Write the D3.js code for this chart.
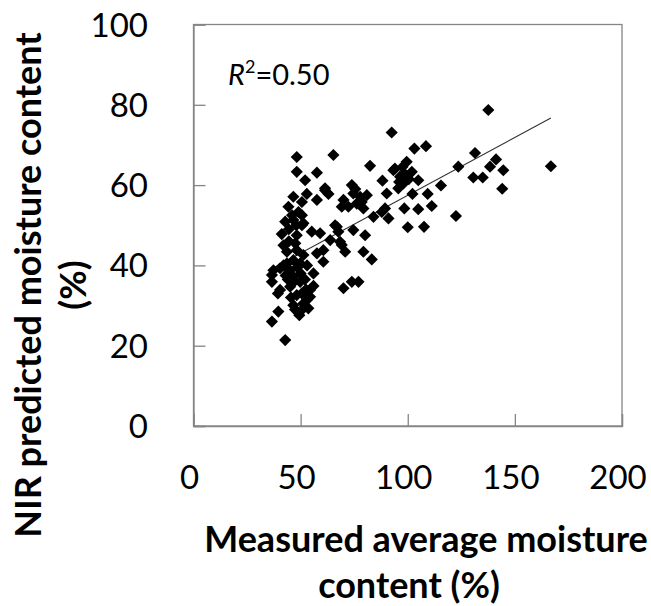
<!DOCTYPE html>
<html>
<head>
<meta charset="utf-8">
<script src="https://cdn.jsdelivr.net/npm/d3@7/dist/d3.min.js"></script>
<style>
  html, body { margin: 0; padding: 0; background: #fff; }
  svg { display: block; }
</style>
</head>
<body>
<svg id="chart" width="651" height="606"></svg>
<script>
// ---------- data ----------
const measured = [
  137.6, 92.5, 103.1, 108.5, 131.4, 141.2, 138.4, 144.6, 123.6, 166.8,
  130.6, 135.0, 144.1, 115.5, 82.4,
  94.0, 99.5, 101.9, 96.4, 98.0, 95.6, 93.3, 104.9, 97.5, 100.5, 96.0, 98.5,
  88.2, 90.2, 102.2, 109.3, 111.2, 104.9, 98.4, 89.4, 122.5, 100.0, 107.6,
  84.0, 87.9, 91.0,
  70.0, 74.6, 77.8, 80.9, 76.2, 79.3, 72.3, 69.2, 73.9, 75.5, 78.5, 61.4,
  66.1, 67.6, 74.6, 80.1, 63.8, 68.4, 70.8, 59.1, 60.6, 60.6, 79.3, 83.2,
  70.0, 73.9, 77.0, 69.2, 66.9,
  48.2, 65.3, 48.2, 57.6, 52.1, 61.4, 63.0, 46.6, 52.9, 57.6, 50.6, 44.3,
  49.0, 46.6, 42.8, 51.3, 50.6, 50.6,
  41.2, 48.2, 55.2, 57.6, 43.6, 48.2, 37.3, 36.6, 40.4, 43.6, 45.1, 49.8,
  46.6, 40.4, 45.1, 49.8, 54.4, 48.2, 51.3, 46.6, 49.8, 56.0, 54.4, 53.6,
  39.6, 36.6, 42.8, 49.4, 47.4, 52.9, 56.0, 39.4, 36.6, 51.3, 46.6, 47.5,
  44.5, 50.0, 47.0, 52.0, 44.0, 48.5, 52.5, 45.5, 50.5, 43.0, 42.0, 53.0,
  46.0, 48.0, 44.5, 42.0
];
const predicted = [
  78.7, 73.1, 69.1, 69.7, 68.0, 66.4, 64.6, 63.7, 64.6, 64.7,
  61.9, 61.9, 59.1, 59.9, 64.8,
  64.1, 65.8, 63.3, 62.1, 60.4, 59.2, 63.7, 61.2, 64.5, 61.5, 60.8, 62.8,
  61.1, 57.9, 57.8, 57.8, 54.8, 54.0, 54.2, 54.2, 52.3, 49.5, 49.6,
  52.1, 53.3, 51.7,
  56.3, 57.9, 57.1, 57.5, 55.4, 54.2, 54.6, 54.6, 60.0, 59.0, 55.8, 58.7,
  50.0, 48.4, 48.8, 47.5, 46.3, 45.9, 43.4, 48.0, 43.8, 40.9, 43.4, 41.5,
  34.3, 35.9, 35.9, 45.1, 49.6,
  67.0, 67.5, 63.3, 63.1, 61.2, 59.2, 57.8, 57.1, 57.8, 56.3, 55.8, 54.6,
  53.3, 51.3, 50.9, 50.5, 52.5, 50.0,
  47.8, 47.5, 48.4, 43.0, 43.4, 43.8, 38.8, 35.9, 39.3, 40.5, 38.8, 40.5,
  37.2, 33.9, 34.7, 35.9, 33.9, 32.6, 30.5, 30.1, 28.5, 38.0, 32.2, 29.3,
  28.5, 26.0, 21.4, 27.6, 29.0, 31.4, 34.9, 33.0, 37.6, 42.6, 41.3, 45.5,
  46.0, 38.0, 36.0, 36.5, 36.5, 39.5, 34.0, 32.0, 33.0, 37.5, 40.0, 40.0,
  52.5, 50.0, 49.0, 45.0
];
const xTicks = [0, 50, 100, 150, 200];
const yTicks = [0, 20, 40, 60, 80, 100];
const trendSlope = 0.288;
const trendIntercept = 28.65;
const r2Label = "0.50";
const xTitleLines = ["Measured average moisture", "content (%)"];
const yTitleLines = ["NIR predicted moisture content", "(%)"];

// ---------- layout ----------
const svg = d3.select("#chart");
const L = 193.5, R = 622, T = 24.5, B = 426;
const axisColor = "#858585";
const x = d3.scaleLinear().domain([0, 200]).range([L, R]);
const y = d3.scaleLinear().domain([0, 100]).range([B, T]);

// plot box
svg.append("rect")
  .attr("x", L).attr("y", T).attr("width", R - L).attr("height", B - T)
  .attr("fill", "none").attr("stroke", axisColor).attr("stroke-width", 1.3);

// axes with inward ticks
const xAxis = svg.append("g").attr("transform", `translate(0,${B})`)
  .call(d3.axisTop(x).tickValues(xTicks).tickSize(12).tickFormat(""));
const yAxis = svg.append("g").attr("transform", `translate(${L},0)`)
  .call(d3.axisRight(y).tickValues(yTicks).tickSize(12).tickFormat(""));
[xAxis, yAxis].forEach(g => {
  g.select(".domain").attr("stroke", axisColor).attr("stroke-width", 1.3);
  g.selectAll(".tick line").attr("stroke", axisColor).attr("stroke-width", 1.3);
});

// tick labels
svg.append("g").selectAll("text").data(xTicks).join("text")
  .attr("x", d => x(d) - 4).attr("y", 489)
  .attr("text-anchor", "middle")
  .attr("font-family", "Lato, 'Open Sans', sans-serif").attr("font-size", 33)
  .attr("fill", "#000").text(d => d);
svg.append("g").selectAll("text").data(yTicks).join("text")
  .attr("x", 148).attr("y", d => y(d) + 12)
  .attr("text-anchor", "end")
  .attr("font-family", "Lato, 'Open Sans', sans-serif").attr("font-size", 33)
  .attr("fill", "#000").text(d => d);

// trend line
const xMin = d3.min(measured), xMax = d3.max(measured);
svg.append("line")
  .attr("x1", x(xMin)).attr("y1", y(trendSlope * xMin + trendIntercept))
  .attr("x2", x(xMax)).attr("y2", y(trendSlope * xMax + trendIntercept))
  .attr("stroke", "#333").attr("stroke-width", 1.1);

// points
const sym = d3.symbol().type(d3.symbolSquare).size(74);
svg.append("g").selectAll("path").data(measured.map((m, i) => [m, predicted[i]]))
  .join("path")
  .attr("d", sym)
  .attr("transform", d => `translate(${x(d[0])},${y(d[1])}) rotate(45)`)
  .attr("fill", "#000");

// R^2 label
const r2 = svg.append("text").attr("x", 228).attr("y", 85)
  .attr("font-family", "Lato, 'Open Sans', sans-serif").attr("font-size", 29).attr("fill", "#000");
r2.append("tspan").attr("font-style", "italic").text("R");
r2.append("tspan").attr("font-size", 18).attr("dy", -12).text("2");
r2.append("tspan").attr("dy", 12).text("=" + r2Label);

// axis titles
const titleFont = "Lato, 'Open Sans', sans-serif";
svg.append("text").attr("x", 426).attr("y", 552).attr("text-anchor", "middle")
  .attr("font-family", titleFont).attr("font-weight", "bold").attr("font-size", 36)
  .text(xTitleLines[0]);
svg.append("text").attr("x", 409).attr("y", 598).attr("text-anchor", "middle")
  .attr("font-family", titleFont).attr("font-weight", "bold").attr("font-size", 36)
  .text(xTitleLines[1]);
svg.append("text").attr("transform", "translate(41,285) rotate(-90)").attr("text-anchor", "middle")
  .attr("font-family", titleFont).attr("font-weight", "bold").attr("font-size", 36)
  .text(yTitleLines[0]);
svg.append("text").attr("transform", "translate(86,285) rotate(-90)").attr("text-anchor", "middle")
  .attr("font-family", titleFont).attr("font-weight", "bold").attr("font-size", 36)
  .text(yTitleLines[1]);
</script>
</body>
</html>
